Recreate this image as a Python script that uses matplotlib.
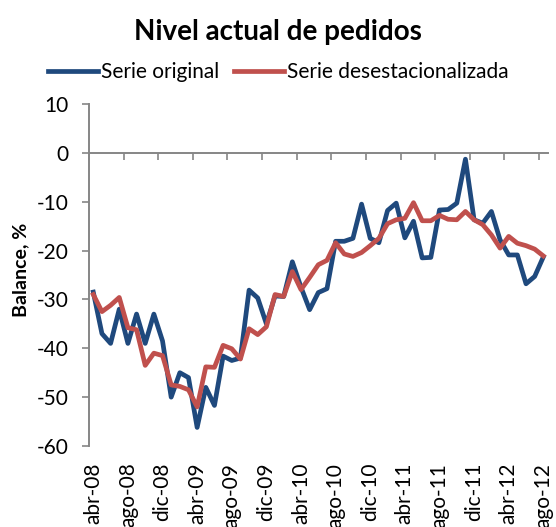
"""Nivel actual de pedidos: serie original vs. desestacionalizada (abr-08 a ago-12)."""

import matplotlib.pyplot as plt
import numpy as np

plt.rcParams["font.family"] = ["Lato", "DejaVu Sans"]
plt.rcParams["axes.unicode_minus"] = False

# monthly balance (%), abr-08 .. ago-12
serie_original = [
    -28.5, -37.0, -39.0, -32.0, -39.0, -33.0, -39.0, -33.0, -38.5, -50.0,
    -45.0, -46.0, -56.2, -48.0, -51.7, -41.6, -42.5, -42.0, -28.1, -29.7,
    -35.0, -29.3, -29.4, -22.3, -27.5, -32.1, -28.6, -27.8, -18.1, -18.1,
    -17.5, -10.5, -17.5, -18.4, -11.8, -10.3, -17.4, -14.0, -21.5, -21.4,
    -11.7, -11.6, -10.3, -1.3, -13.7, -14.4, -12.0, -17.8, -20.9, -20.9,
    -26.8, -25.3, -21.3,
]
serie_desest = [
    -29.0, -32.5, -31.2, -29.6, -35.8, -36.2, -43.5, -41.0, -41.5, -47.5,
    -47.8, -48.5, -52.0, -43.8, -43.9, -39.4, -40.1, -42.2, -36.0, -37.2,
    -35.6, -29.0, -29.4, -24.3, -28.0, -25.5, -22.9, -22.0, -18.4, -20.7,
    -21.2, -20.4, -19.0, -17.5, -14.5, -13.7, -13.4, -10.2, -13.9, -13.9,
    -12.8, -13.6, -13.7, -12.0, -13.7, -14.7, -16.8, -19.5, -17.1, -18.5,
    -19.0, -19.7, -21.1,
]
month_labels = [
    "abr-08", "ago-08", "dic-08", "abr-09", "ago-09", "dic-09", "abr-10",
    "ago-10", "dic-10", "abr-11", "ago-11", "dic-11", "abr-12", "ago-12",
]
y_ticks = [10, 0, -10, -20, -30, -40, -50, -60]

BLUE = "#1F497D"
RED = "#C0504D"
GRAY = "#868686"

n = len(serie_original)
x = np.arange(n)

fig = plt.figure(figsize=(5.56, 5.27), dpi=100)
ax = fig.add_axes([0.16, 0.1537, 0.825, 0.649])

ax.plot(x, serie_original, color=BLUE, linewidth=3.4, label="Serie original",
        solid_joinstyle="round")
ax.plot(x, serie_desest, color=RED, linewidth=3.4, label="Serie desestacionalizada",
        solid_joinstyle="round")

ax.set_xlim(-0.5, n - 0.5)
ax.set_ylim(-60, 10)
ax.set_yticks(y_ticks)
ax.tick_params(axis="y", direction="out", length=5, width=1.2, color=GRAY,
               labelsize=15, pad=10)

# category labels every 4 months, shown below the plot
ax.set_xticks(x[::4])
ax.set_xticklabels(month_labels, rotation=90, fontsize=15)
ax.tick_params(axis="x", length=0, pad=12)

for side in ["top", "right", "bottom"]:
    ax.spines[side].set_visible(False)
ax.spines["left"].set_color(GRAY)
ax.spines["left"].set_linewidth(1.4)

# horizontal axis crosses at 0, with tick marks between categories
sec = ax.secondary_xaxis(0, transform=ax.transData)
sec.set_xticks(np.arange(-0.5, n, 4))
sec.tick_params(axis="x", direction="out", length=5, width=1.2, color=GRAY,
                labelbottom=False)
sec.spines["bottom"].set_color(GRAY)
sec.spines["bottom"].set_linewidth(1.4)

fig.text(0.5, 1 - 32 / 527, "Nivel actual de pedidos", ha="center", va="center",
         fontsize=20, fontweight="bold")
fig.text(21 / 556, 1 - 270 / 527, "Balance, %", rotation=90, ha="center",
         va="center", fontsize=14, fontweight="bold")

fig.legend(loc="center", bbox_to_anchor=(0.5, 1 - 72 / 527), ncol=2, frameon=False,
           fontsize=15, handlelength=2.4, handletextpad=0.15, columnspacing=0.7,
           borderaxespad=0)

fig.savefig("out.png", dpi=100)
